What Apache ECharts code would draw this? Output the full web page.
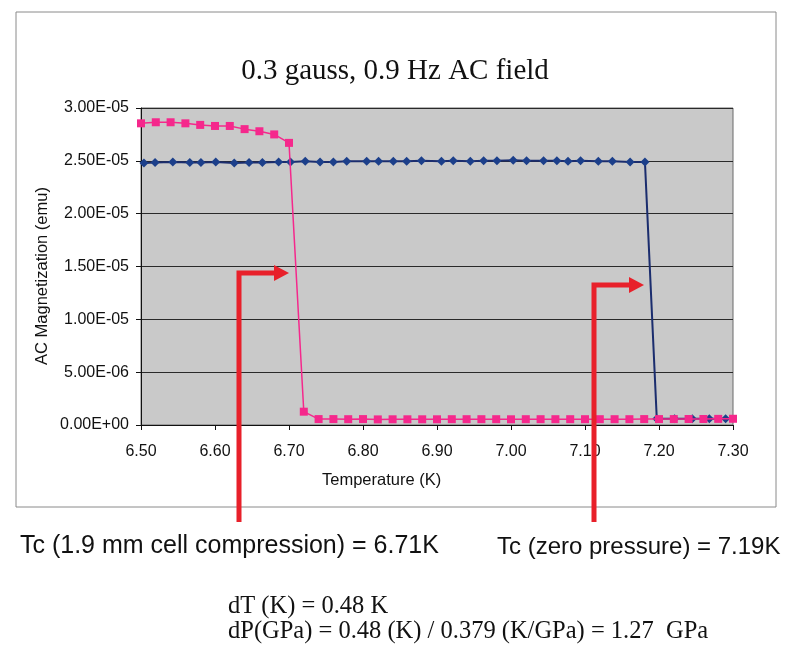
<!DOCTYPE html>
<html>
<head>
<meta charset="utf-8">
<script src="https://cdn.jsdelivr.net/npm/echarts@6/dist/echarts.min.js"></script>
<style>
  html, body { margin: 0; padding: 0; background: #fff; }
  #chart { width: 790px; height: 648px; }
</style>
</head>
<body>
<div id="chart"></div>
<script>
// zero pressure run (blue diamonds)
const blueTemp = [6.504, 6.519, 6.543, 6.566, 6.581, 6.601, 6.626, 6.646, 6.664, 6.686,
  6.702, 6.722, 6.742, 6.760, 6.778, 6.805, 6.821, 6.841, 6.859, 6.879,
  6.906, 6.922, 6.945, 6.963, 6.981, 7.003, 7.021, 7.044, 7.062, 7.077,
  7.094, 7.118, 7.137, 7.161, 7.181, 7.197, 7.221, 7.245, 7.268, 7.290]
const blueMag = [2.48e-5, 2.485e-5, 2.49e-5, 2.485e-5, 2.485e-5, 2.49e-5, 2.48e-5, 2.485e-5, 2.485e-5, 2.49e-5,
  2.49e-5, 2.495e-5, 2.49e-5, 2.49e-5, 2.495e-5, 2.495e-5, 2.495e-5, 2.495e-5, 2.495e-5, 2.50e-5,
  2.495e-5, 2.50e-5, 2.495e-5, 2.50e-5, 2.50e-5, 2.505e-5, 2.50e-5, 2.50e-5, 2.50e-5, 2.495e-5,
  2.50e-5, 2.495e-5, 2.495e-5, 2.49e-5, 2.49e-5, 6.0e-7, 6.0e-7, 6.0e-7, 6.0e-7, 6.0e-7]

// 1.9 mm cell compression run (pink squares)
const pinkTemp = [6.50, 6.52, 6.54, 6.56, 6.58, 6.60, 6.62, 6.64, 6.66, 6.68,
  6.70, 6.72, 6.74, 6.76, 6.78, 6.80, 6.82, 6.84, 6.86, 6.88,
  6.90, 6.92, 6.94, 6.96, 6.98, 7.00, 7.02, 7.04, 7.06, 7.08,
  7.10, 7.12, 7.14, 7.16, 7.18, 7.20, 7.22, 7.24, 7.26, 7.28, 7.30]
const pinkMag = [2.855e-5, 2.865e-5, 2.865e-5, 2.855e-5, 2.84e-5, 2.83e-5, 2.83e-5, 2.80e-5, 2.78e-5, 2.75e-5,
  2.67e-5, 1.26e-6, 5.6e-7, 5.6e-7, 5.5e-7, 5.6e-7, 5.3e-7, 5.4e-7, 5.4e-7, 5.4e-7,
  5.4e-7, 5.5e-7, 5.5e-7, 5.5e-7, 5.5e-7, 5.4e-7, 5.5e-7, 5.5e-7, 5.5e-7, 5.5e-7,
  5.5e-7, 5.5e-7, 5.5e-7, 5.5e-7, 5.6e-7, 5.6e-7, 5.6e-7, 5.7e-7, 5.7e-7, 5.8e-7, 5.9e-7]

const xTicks = { min: 6.5, max: 7.3, step: 0.1 }
const yTicks = { min: 0, max: 3e-5, step: 5e-6 }

function sci(v) {
  // excel style 2.50E-05
  if (v === 0) return '0.00E+00'
  let e = Math.floor(Math.log10(v) + 1e-9)
  let m = v / Math.pow(10, e)
  if (m >= 9.995) { m = m / 10; e += 1 }
  const sign = e < 0 ? '-' : '+'
  const a = Math.abs(e)
  return m.toFixed(2) + 'E' + sign + (a < 10 ? '0' + a : a)
}

const chart = echarts.init(document.getElementById('chart'))

const arrowColor = '#e8202a'

chart.setOption({
  backgroundColor: '#ffffff',
  animation: false,
  title: {
    text: '0.3 gauss, 0.9 Hz AC field',
    left: 'center',
    top: 52,
    textStyle: { fontFamily: 'Liberation Serif', fontSize: 29, fontWeight: 'normal', color: '#111' }
  },
  grid: {
    left: 141,
    top: 108,
    right: 57,
    bottom: 223,
    show: true,
    backgroundColor: '#c9c9c9',
    borderColor: '#6a6a6a',
    borderWidth: 1
  },
  xAxis: {
    type: 'value',
    min: xTicks.min,
    max: xTicks.max,
    interval: xTicks.step,
    axisLine: { lineStyle: { color: '#111', width: 1 } },
    axisTick: { show: true, length: 5, lineStyle: { color: '#111' } },
    splitLine: { show: false },
    axisLabel: {
      margin: 19,
      fontFamily: 'Liberation Sans',
      fontSize: 16,
      color: '#111',
      formatter: v => v.toFixed(2)
    }
  },
  yAxis: {
    type: 'value',
    min: yTicks.min,
    max: yTicks.max,
    interval: yTicks.step,
    axisLine: { show: true, lineStyle: { color: '#111', width: 1 } },
    axisTick: { show: true, length: 5, lineStyle: { color: '#111' } },
    splitLine: { show: true, lineStyle: { color: '#2a2a2a', width: 1 } },
    axisLabel: {
      margin: 12,
      fontFamily: 'Liberation Sans',
      fontSize: 16,
      color: '#111',
      formatter: sci
    }
  },
  series: [
    {
      name: 'zero pressure',
      type: 'line',
      data: blueTemp.map((t, i) => [t, blueMag[i]]),
      symbol: 'diamond',
      symbolSize: 9,
      itemStyle: { color: '#1c3f8a' },
      lineStyle: { color: '#1b2d6e', width: 2 },
      z: 2
    },
    {
      name: '1.9 mm cell compression',
      type: 'line',
      data: pinkTemp.map((t, i) => [t, pinkMag[i]]),
      symbol: 'rect',
      symbolSize: 8,
      itemStyle: { color: '#f5288c' },
      lineStyle: { color: '#f5288c', width: 1.5 },
      z: 3
    }
  ],
  graphic: [
    // scanned figure frame
    {
      type: 'rect',
      shape: { x: 16, y: 12, width: 760, height: 495 },
      style: { fill: 'none', stroke: '#8a8a8a', lineWidth: 1 },
      z: 0
    },
    {
      type: 'text',
      x: 42,
      y: 276,
      rotation: Math.PI / 2,
      style: {
        text: 'AC Magnetization (emu)',
        font: '16.5px "Liberation Sans"',
        fill: '#111',
        align: 'center',
        verticalAlign: 'middle'
      }
    },
    {
      type: 'text',
      left: 322,
      top: 472,
      style: { text: 'Temperature (K)', font: '16.5px "Liberation Sans"', fill: '#111' }
    },
    // arrows
    {
      type: 'polyline',
      shape: { points: [[239, 522], [239, 273], [276, 273]] },
      style: { stroke: arrowColor, lineWidth: 5, fill: 'none' },
      z: 10
    },
    {
      type: 'polygon',
      shape: { points: [[274, 265], [289, 273], [274, 281]] },
      style: { fill: arrowColor },
      z: 10
    },
    {
      type: 'polyline',
      shape: { points: [[594, 522], [594, 285], [631, 285]] },
      style: { stroke: arrowColor, lineWidth: 5, fill: 'none' },
      z: 10
    },
    {
      type: 'polygon',
      shape: { points: [[629, 277], [644, 285], [629, 293]] },
      style: { fill: arrowColor },
      z: 10
    },
    // annotations
    {
      type: 'text',
      left: 20,
      top: 534,
      style: { text: 'Tc (1.9 mm cell compression) = 6.71K', font: '25px "Liberation Sans"', fill: '#111' }
    },
    {
      type: 'text',
      left: 497,
      top: 535,
      style: { text: 'Tc (zero pressure) = 7.19K', font: '24px "Liberation Sans"', fill: '#111' }
    },
    {
      type: 'text',
      left: 228,
      top: 594,
      style: { text: 'dT (K) = 0.48 K', font: '24.5px "Liberation Serif"', fill: '#111' }
    },
    {
      type: 'text',
      left: 228,
      top: 619,
      style: { text: 'dP(GPa) = 0.48 (K) / 0.379 (K/GPa) = 1.27  GPa', font: '24.5px "Liberation Serif"', fill: '#111' }
    }
  ]
})
</script>
</body>
</html>
